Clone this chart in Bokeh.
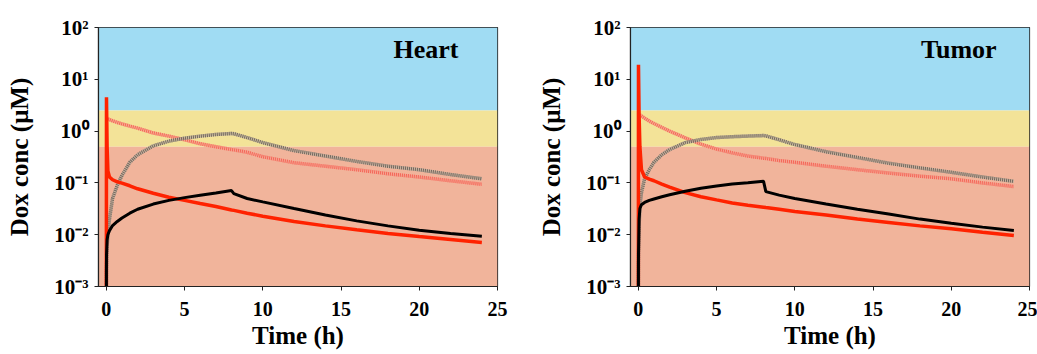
from bokeh.plotting import figure
from bokeh.layouts import row
from bokeh.models import (Range1d, FixedTicker, CustomJSTickFormatter, BoxAnnotation,
                          Label, ColumnDataSource)
from bokeh.embed import file_html
from bokeh.resources import INLINE

# ---------------- data ----------------
time_h = [0, 0.01, 0.05, 0.1, 0.2, 0.4, 0.7, 1, 1.5, 2, 3, 4, 5, 6, 7, 8, 8.15, 9,
          10, 12, 14, 16, 18, 20, 22, 24]

heart_red = [1e-4, 4.5, 0.5, 0.17, 0.13, 0.115, 0.105, 0.099, 0.088, 0.077, 0.063, 0.053,
             0.046, 0.040, 0.035, 0.030, 0.0295, 0.026, 0.0228, 0.018, 0.0148, 0.0124,
             0.0106, 0.0092, 0.0081, 0.0071]
heart_black = [1e-4, 0.004, 0.008, 0.010, 0.012, 0.015, 0.018, 0.021, 0.026, 0.031, 0.039,
               0.046, 0.052, 0.058, 0.064, 0.071, 0.062, 0.050, 0.043, 0.032, 0.024, 0.0185,
               0.0148, 0.0122, 0.0105, 0.0093]
heart_gray_dot = [1e-4, 0.002, 0.006, 0.010, 0.020, 0.05, 0.09, 0.14, 0.25, 0.35, 0.52, 0.64,
                  0.73, 0.80, 0.86, 0.90, 0.89, 0.75, 0.60, 0.42, 0.33, 0.26, 0.21, 0.18,
                  0.145, 0.12]
heart_red_dot = [1.8, 1.78, 1.75, 1.72, 1.67, 1.58, 1.47, 1.38, 1.25, 1.14, 0.92, 0.80, 0.68,
                 0.57, 0.50, 0.44, 0.435, 0.39, 0.32, 0.245, 0.21, 0.18, 0.15, 0.13, 0.11,
                 0.094]

tumor_red = [1e-4, 19, 2.0, 0.5, 0.18, 0.13, 0.118, 0.11, 0.095, 0.083, 0.065, 0.054, 0.047,
             0.041, 0.037, 0.034, 0.0335, 0.031, 0.028, 0.024, 0.020, 0.0172, 0.0148, 0.013,
             0.0112, 0.0097]
tumor_black = [1e-4, 0.004, 0.02, 0.032, 0.038, 0.042, 0.046, 0.049, 0.054, 0.059, 0.069,
               0.079, 0.087, 0.095, 0.101, 0.108, 0.068, 0.058, 0.050, 0.039, 0.031, 0.025,
               0.020, 0.0167, 0.014, 0.012]
tumor_gray_dot = [1e-4, 0.003, 0.015, 0.035, 0.065, 0.12, 0.18, 0.25, 0.35, 0.44, 0.60, 0.69,
                  0.75, 0.78, 0.80, 0.82, 0.81, 0.68, 0.55, 0.40, 0.31, 0.24, 0.195, 0.16,
                  0.13, 0.107]
tumor_red_dot = [2.2, 2.18, 2.12, 2.05, 1.95, 1.78, 1.56, 1.4, 1.18, 1.0, 0.74, 0.56, 0.45,
                 0.38, 0.33, 0.30, 0.297, 0.27, 0.25, 0.21, 0.18, 0.155, 0.135, 0.12, 0.10,
                 0.085]

band_bounds = [(2.5, 100), (0.5, 2.5), (0.001, 0.5)]
band_colors = ["#a0dcf3", "#f3e398", "#f1b49b"]

x_ticks = [0, 5, 10, 15, 20, 25]
y_ticks = [1e-3, 1e-2, 1e-1, 1, 10, 100]

SERIF = "Liberation Serif"

sup_formatter_code = """
const sup = {'-':'\u207b','0':'\u2070','1':'\u00b9','2':'\u00b2','3':'\u00b3','4':'\u2074'};
const e = Math.round(Math.log10(tick));
return '10' + String(e).split('').map(c => sup[c]).join('');
"""


def make_panel(name, red, black, gray_dot, red_dot, width, mb_left, mb_right,
               label_x, label_y):
    p = figure(width=width, height=354, y_axis_type="log",
               x_range=Range1d(-0.5, 25), y_range=Range1d(1e-3, 1e2),
               output_backend="svg", toolbar_location=None,
               min_border_left=mb_left, min_border_right=mb_right,
               min_border_top=27, min_border_bottom=68)
    p.grid.visible = False
    p.background_fill_color = "white"
    p.border_fill_color = "white"
    p.outline_line_color = "#222222"
    p.outline_line_width = 1.2

    for (lo, hi), c in zip(band_bounds, band_colors):
        p.add_layout(BoxAnnotation(bottom=lo, top=hi, fill_color=c, fill_alpha=1.0,
                                   line_color=None, level="underlay"))

    src = ColumnDataSource(dict(t=time_h, red=red, black=black, gd=gray_dot, rd=red_dot))

    # hatched (dotted) curves
    p.line("t", "rd", source=src, line_color="#f7a08e", line_width=3.5, line_alpha=0.8)
    p.line("t", "rd", source=src, line_color="#f2584a", line_width=3.5, line_dash="1 1",
           line_alpha=0.8)
    p.line("t", "gd", source=src, line_color="#c0b0a0", line_width=3.5, line_alpha=0.8)
    p.line("t", "gd", source=src, line_color="#555048", line_width=3.5, line_dash="1 1",
           line_alpha=0.75)
    # solid curves
    p.line("t", "red", source=src, line_color="#ff2200", line_width=3.5)
    p.line("t", "black", source=src, line_color="black", line_width=3)

    p.add_layout(Label(x=label_x, y=label_y, text=name, text_align="right",
                       text_baseline="alphabetic", text_font=SERIF,
                       text_font_style="bold", text_font_size="26px",
                       text_color="black"))

    p.xaxis.ticker = FixedTicker(ticks=x_ticks)
    p.yaxis.ticker = FixedTicker(ticks=y_ticks)
    p.yaxis.formatter = CustomJSTickFormatter(code=sup_formatter_code)
    for ax in (p.xaxis, p.yaxis):
        ax.axis_line_color = "#222222"
        ax.axis_line_width = 1.2
        ax.major_tick_line_color = "#222222"
        ax.major_tick_in = 0
        ax.major_tick_out = 4
        ax.minor_tick_line_color = None
        ax.major_label_text_font = SERIF
        ax.major_label_text_font_style = "bold"
        ax.major_label_text_color = "black"
        ax.axis_label_text_font = SERIF
        ax.axis_label_text_font_style = "bold"
        ax.axis_label_text_color = "black"
        ax.axis_label_text_font_size = "25px"
    p.xaxis.major_label_text_font_size = "20px"
    p.yaxis.major_label_text_font_size = "21px"
    p.xaxis.axis_label = "Time (h)"
    p.yaxis.axis_label = "Dox conc (\u03bcM)"
    p.xaxis.major_label_standoff = 11
    p.xaxis.axis_label_standoff = 3
    p.yaxis.major_label_standoff = 6
    p.yaxis.axis_label_standoff = 18
    return p


left = make_panel("Heart", heart_red, heart_black, heart_gray_dot, heart_red_dot,
                  width=520, mb_left=98, mb_right=23, label_x=22.5, label_y=38)
right = make_panel("Tumor", tumor_red, tumor_black, tumor_gray_dot, tumor_red_dot,
                   width=517, mb_left=110, mb_right=8, label_x=22.9, label_y=37)

layout = row(left, right, spacing=0)
open("out.html", "w").write(file_html(layout, INLINE))
